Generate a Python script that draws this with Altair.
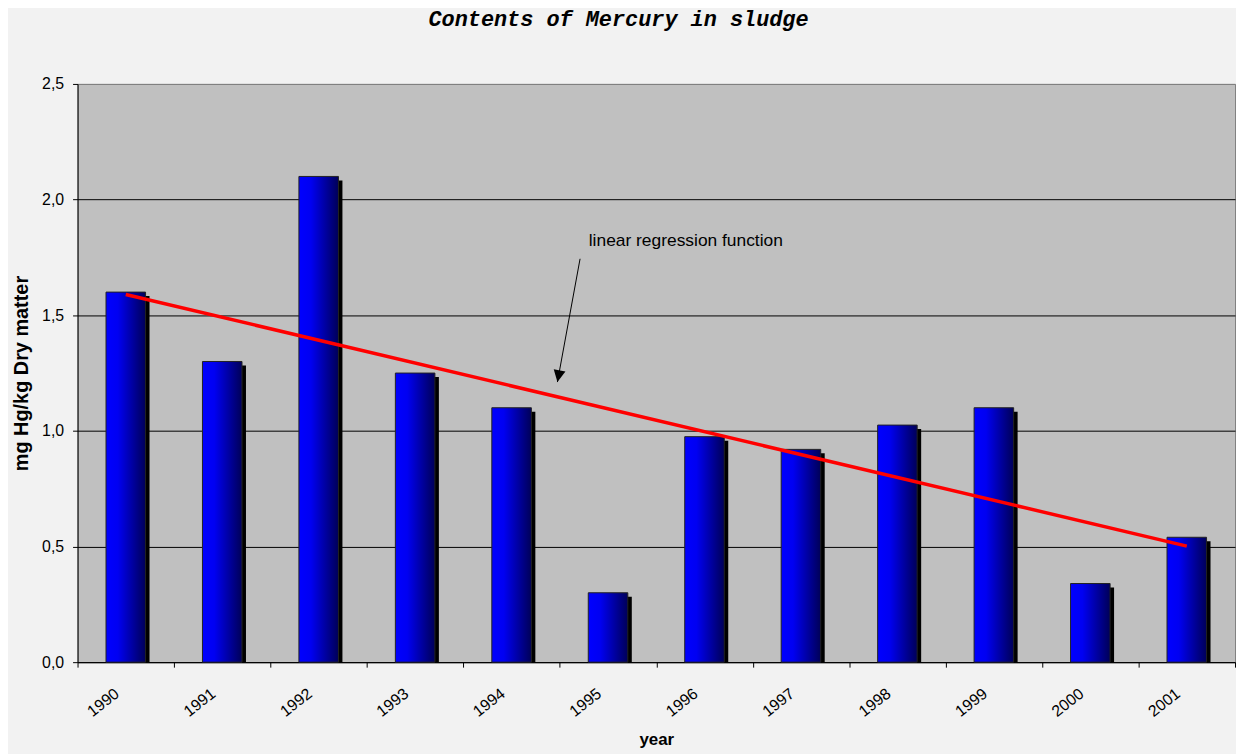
import altair as alt
import pandas as pd

# ---- data ----
years = [1990, 1991, 1992, 1993, 1994, 1995, 1996, 1997, 1998, 1999, 2000, 2001]
values = [1.6, 1.3, 2.1, 1.25, 1.1, 0.3, 0.975, 0.92, 1.025, 1.1, 0.34, 0.54]
y_ticks = [0.0, 0.5, 1.0, 1.5, 2.0, 2.5]

# annotation (in data units: band index position, y value)
note_text = ["linear regression function"]
note_x = [5.30]
note_y = [1.82]
arrow_x = [5.21]
arrow_y = [1.744]
arrow_x2 = [4.975]
arrow_y2 = [1.211]

df = pd.DataFrame({"year": years, "value": values})
note_df = pd.DataFrame({"x": note_x, "y": note_y, "text": note_text})
arrow_df = pd.DataFrame({"x": arrow_x, "y": arrow_y, "x2": arrow_x2, "y2": arrow_y2})

FONT = "Liberation Sans"
y_scale = alt.Scale(domain=[0, 2.5], nice=False, zero=True)
x_scale = alt.Scale(paddingInner=0, paddingOuter=0)

x_enc = alt.X(
    "year:O",
    scale=x_scale,
    title="year",
    axis=alt.Axis(
        labelAngle=-38,
        labelFont=FONT,
        labelFontSize=16,
        labelColor="black",
        labelPadding=18,
        labelOffset=-14,
        tickBand="extent",
        tickSize=5,
        tickColor="black",
        domainColor="black",
        grid=False,
        titleFont=FONT,
        titleFontSize=17,
        titleFontWeight="bold",
        titleColor="black",
        titlePadding=12,
    ),
)
y_enc = alt.Y(
    "value:Q",
    scale=y_scale,
    title="mg Hg/kg Dry matter",
    axis=alt.Axis(
        values=y_ticks,
        labelExpr="replace(format(datum.value, '.1f'), '.', ',')",
        labelFont=FONT,
        labelFontSize=16,
        labelColor="black",
        labelPadding=9,
        tickSize=5,
        tickColor="black",
        domainColor="black",
        grid=True,
        gridColor={"condition": {"test": "datum.value >= 2.5", "value": "#808080"}, "value": "#000000"},
        gridWidth=1,
        titleFont=FONT,
        titleFontSize=20,
        titleFontWeight="bold",
        titleColor="black",
        titlePadding=10,
    ),
)

gradient = alt.LinearGradient(
    gradient="linear",
    stops=[
        alt.GradientStop(color="#0000ff", offset=0),
        alt.GradientStop(color="#0000f2", offset=0.3),
        alt.GradientStop(color="#000058", offset=1),
    ],
    x1=0, x2=1, y1=0, y2=0,
)

shadow = alt.Chart(df).mark_bar(
    color="black", xOffset=4, yOffset=4, width={"band": 0.41}, clip=True
).encode(x=x_enc, y=y_enc)

bars = alt.Chart(df).mark_bar(
    color=gradient, stroke="#222222", strokeWidth=1, width={"band": 0.41}
).encode(x=x_enc, y=y_enc)

reg = alt.Chart(df).transform_regression("year", "value", method="linear").mark_line(
    color="#ff0000", strokeWidth=3.5
).encode(x=alt.X("year:O", scale=x_scale), y=alt.Y("value:Q", scale=y_scale))

main = alt.layer(shadow, bars, reg)

ann_x = alt.Scale(domain=[0, 12], nice=False, zero=False)

arrow_line = alt.Chart(arrow_df).mark_rule(color="black", strokeWidth=1).encode(
    x=alt.X("x:Q", scale=ann_x, axis=None),
    y=alt.Y("y:Q", scale=y_scale),
    x2="x2:Q",
    y2="y2:Q",
)
arrow_head = alt.Chart(arrow_df).mark_point(
    shape="M0,0L-0.5,-1L0.5,-1Z", size=576, filled=True, color="black", opacity=1, angle=10.5
).encode(
    x=alt.X("x2:Q", scale=ann_x, axis=None),
    y=alt.Y("y2:Q", scale=y_scale),
)
note = alt.Chart(note_df).mark_text(
    align="left", baseline="middle", font=FONT, fontSize=17.5, color="black"
).encode(
    x=alt.X("x:Q", scale=ann_x, axis=None),
    y=alt.Y("y:Q", scale=y_scale),
    text="text:N",
)
annotation = alt.layer(arrow_line, arrow_head, note)

chart = alt.layer(main, annotation).resolve_scale(x="independent").properties(
    width=1165,
    height=582,
    title=alt.TitleParams(
        "Contents of Mercury in sludge",
        font="Liberation Mono",
        fontSize=22,
        fontWeight="bold",
        fontStyle="italic",
        color="black",
        anchor="middle",
        offset=45,
        dx=-38,
    ),
    autosize=alt.AutoSizeParams(type="none"),
    padding={"left": 70, "top": 74, "right": 1, "bottom": 90},
    background="#f2f2f2",
).configure_view(fill="#c0c0c0", stroke="#808080", strokeWidth=1)

chart.save("out.html", embed_options={"renderer": "svg", "actions": False})
